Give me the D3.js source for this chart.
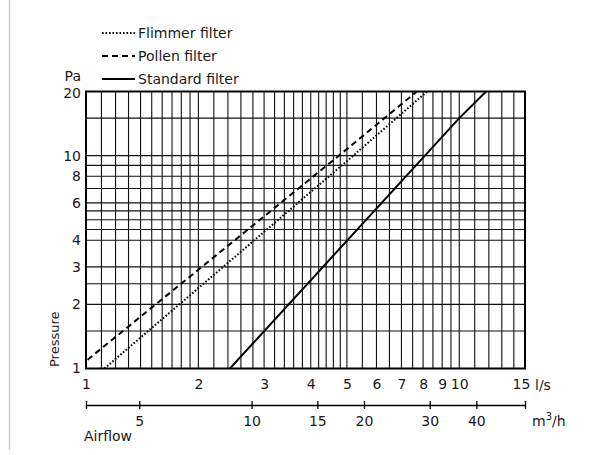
<!DOCTYPE html>
<html>
<head>
<meta charset="utf-8">
<script src="https://cdn.jsdelivr.net/npm/d3@7"></script>
<style>
  body { margin: 0; background: #fff; }
  text { font-family: "DejaVu Sans", sans-serif; font-size: 14px; fill: #1a1a1a; }
</style>
</head>
<body>
<div id="canvas"></div>
<script>
// series: airflow in l/s against pressure in Pa
const flimmerFlow = [1.12, 5.2, 8.2];
const flimmerPa = [1, 10, 20];
const pollenFlow = [1.01, 4.76, 7.7];
const pollenPa = [1.1, 10, 20];
const standardFlow = [2.43, 10, 11.8];
const standardPa = [1, 15, 20];

const seriesNames = ['Flimmer filter', 'Pollen filter', 'Standard filter'];

// tick labels
const flowTicks = [1, 2, 3, 4, 5, 6, 7, 8, 9, 10, 15];
const pressureTicks = [1, 2, 3, 4, 6, 8, 10, 20];
const m3hTicks = [5, 10, 15, 20, 30, 40];

// grid lines
const flowGrid = [1.1, 1.2, 1.3, 1.4, 1.5, 1.6, 1.7, 1.8, 1.9, 2,
  2.2, 2.4, 2.6, 2.8, 3, 3.2, 3.4, 3.6, 3.8, 4, 4.2, 4.4, 4.6, 4.8, 5,
  5.5, 6, 6.5, 7, 7.5, 8, 8.5, 9, 9.5, 10, 11, 12, 13, 14];
const pressureGrid = [1.5, 2, 2.5, 3, 4, 4.5, 5, 5.5, 6, 7, 8, 9, 10, 15];

const W = 606, H = 455;
const pLeft = 86, pRight = 525, pTop = 91.5, pBottom = 368.5;

const svg = d3.select('#canvas')
    .append('svg')
    .attr('width', W)
    .attr('height', H);

// faint page edge on the left
svg.append('line')
    .attr('x1', 9.5).attr('x2', 9.5)
    .attr('y1', 0).attr('y2', 450)
    .attr('stroke', '#d0d0d0')
    .attr('stroke-width', 1.5);

const x = d3.scaleLog().domain([1, 15]).range([pLeft, pRight]);
const y = d3.scaleLog().domain([1, 20]).range([pBottom, pTop]);
const xm3 = d3.scaleLog().domain([3.6, 54]).range([pLeft, pRight]);

const grid = svg.append('g');

grid.selectAll('.vg')
    .data(flowGrid)
    .enter()
    .append('line')
    .attr('class', 'vg')
    .attr('x1', d => x(d)).attr('x2', d => x(d))
    .attr('y1', pTop).attr('y2', pBottom)
    .attr('stroke', '#111')
    .attr('stroke-width', 1.1);

grid.selectAll('.hg')
    .data(pressureGrid)
    .enter()
    .append('line')
    .attr('class', 'hg')
    .attr('y1', d => y(d)).attr('y2', d => y(d))
    .attr('x1', pLeft).attr('x2', pRight)
    .attr('stroke', '#111')
    .attr('stroke-width', 1.1);

svg.append('rect')
    .attr('x', pLeft).attr('y', pTop)
    .attr('width', pRight - pLeft)
    .attr('height', pBottom - pTop)
    .attr('fill', 'none')
    .attr('stroke', '#000')
    .attr('stroke-width', 2);

svg.append('clipPath')
    .attr('id', 'plot')
    .append('rect')
    .attr('x', pLeft).attr('y', pTop)
    .attr('width', pRight - pLeft)
    .attr('height', pBottom - pTop);

const series = [
  { flow: flimmerFlow, pa: flimmerPa, dash: '1.6,1.9' },
  { flow: pollenFlow, pa: pollenPa, dash: '6,4' },
  { flow: standardFlow, pa: standardPa, dash: null }
];

const line = d3.line()
    .x(d => x(d[0]))
    .y(d => y(d[1]));

svg.append('g')
    .attr('clip-path', 'url(#plot)')
    .selectAll('path')
    .data(series)
    .enter()
    .append('path')
    .attr('d', s => line(s.flow.map((f, i) => [f, s.pa[i]])))
    .attr('fill', 'none')
    .attr('stroke', '#000')
    .attr('stroke-width', 2)
    .attr('stroke-dasharray', s => s.dash);

// legend
const legend = svg.append('g');
const legendY = d3.scalePoint().domain(seriesNames).range([33, 79]);

legend.selectAll('line')
    .data(series)
    .enter()
    .append('line')
    .attr('x1', 102).attr('x2', 135)
    .attr('y1', (d, i) => legendY(seriesNames[i]))
    .attr('y2', (d, i) => legendY(seriesNames[i]))
    .attr('stroke', '#000')
    .attr('stroke-width', 2)
    .attr('stroke-dasharray', d => d.dash);

legend.selectAll('text')
    .data(seriesNames)
    .enter()
    .append('text')
    .attr('x', 138)
    .attr('y', d => legendY(d) + 4.5)
    .text(d => d);

// y axis labels
const yAxis = d3.axisLeft(y)
    .tickValues(pressureTicks)
    .tickFormat(d3.format('d'))
    .tickSize(0)
    .tickPadding(5);
svg.append('g')
    .attr('transform', `translate(${pLeft}, 0)`)
    .call(yAxis)
    .call(g => g.select('.domain').remove())
    .call(g => g.selectAll('.tick text').filter(d => d === 20).attr('dy', '0.45em'));

svg.append('text')
    .attr('x', 81).attr('y', 81)
    .attr('text-anchor', 'end')
    .text('Pa');

svg.append('text')
    .attr('transform', 'translate(59, 367) rotate(-90)')
    .style('font-size', '13px')
    .text('Pressure');

// l/s axis labels
const xAxis = d3.axisBottom(x)
    .tickValues(flowTicks)
    .tickFormat(d3.format('d'))
    .tickSize(0)
    .tickPadding(11);
svg.append('g')
    .attr('transform', `translate(0, ${pBottom})`)
    .call(xAxis)
    .call(g => g.select('.domain').remove())
    .call(g => g.selectAll('.tick text').filter(d => d === 15).attr('dx', -4));

svg.append('text')
    .attr('x', 535).attr('y', 390)
    .text('l/s');

// m3/h axis
const m3Axis = d3.axisBottom(xm3)
    .tickValues([3.6].concat(m3hTicks, [54]))
    .tickFormat(d => m3hTicks.includes(d) ? d : '')
    .tickSizeOuter(0)
    .tickSizeInner(4)
    .tickPadding(7);
svg.append('g')
    .attr('transform', 'translate(0, 405)')
    .call(m3Axis)
    .call(g => g.select('.domain').attr('stroke', '#000').attr('stroke-width', 1.3))
    .call(g => g.selectAll('.tick line').attr('y1', -4).attr('y2', 4).attr('stroke', '#000').attr('stroke-width', 1.3));

const m3Label = svg.append('text')
    .attr('x', 532).attr('y', 426);
m3Label.append('tspan').text('m');
m3Label.append('tspan').attr('dy', -6).style('font-size', '10px').text('3');
m3Label.append('tspan').attr('dy', 6).text('/h');

svg.append('text')
    .attr('x', 84).attr('y', 441)
    .text('Airflow');

svg.selectAll('.tick text')
    .style('font-family', '"DejaVu Sans", sans-serif')
    .style('font-size', '14px')
    .attr('fill', '#1a1a1a');
</script>
</body>
</html>
